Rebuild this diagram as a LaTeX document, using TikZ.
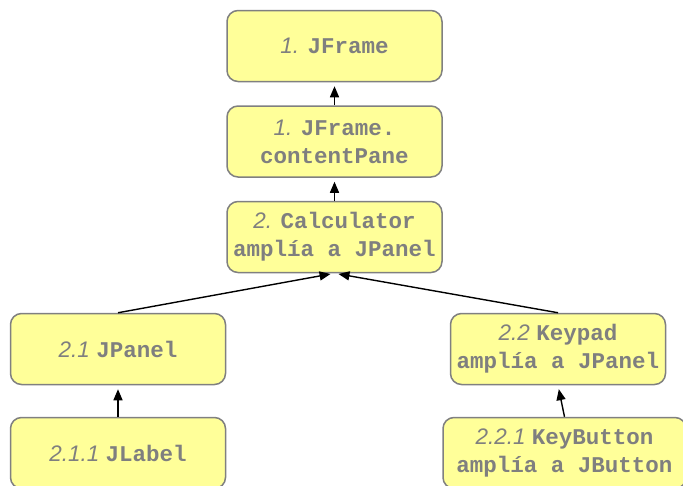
\documentclass[tikz,border=0pt]{standalone}
\usepackage{fontspec}
\setmainfont{Liberation Sans}
\newfontfamily\codefont{Liberation Mono}
\usepackage{tikz}
\usetikzlibrary{arrows.meta}

\definecolor{boxfill}{HTML}{FFFF99}
\definecolor{boxline}{HTML}{808080}
\definecolor{boxtext}{HTML}{7F7F7F}
\newcommand{\num}[1]{\textit{#1}}
\newcommand{\cls}[1]{{\codefont\bfseries #1}}

\begin{document}
\begin{tikzpicture}[x=1pt,y=1pt,
    cbox/.style={draw=boxline, line width=1.5pt, fill=boxfill,
      rounded corners=11pt, minimum width=215pt, minimum height=71pt,
      inner sep=1pt, align=center, text=boxtext,
      font=\fontsize{22.5}{28}\selectfont},
    ext/.style={-{Triangle[length=11pt,width=9pt]}, line width=1.4pt, shorten >=4pt}]

      \useasboundingbox (0,0) rectangle (683,-485);

      % frame and its pane
      \node[cbox] (frame) at (334.5,-46) {\num{1.} \cls{JFrame}};
      \node[cbox] (pane) at (334.5,-141.5) {\num{1.} \cls{JFrame.}\\\cls{contentPane}};

      % calculator
      \node[cbox] (calc) at (334.5,-237) {\num{2.} \cls{Calculator}\\\cls{amplía a JPanel}};

      % panels
      \node[cbox] (jpanel) at (118,-349) {\num{2.1} \cls{JPanel}};
      \node[cbox] (keypad) at (558,-349) {\num{2.2} \cls{Keypad}\\\cls{amplía a JPanel}};

      % leaves
      \node[cbox] (jlabel) at (118,-453) {\num{2.1.1} \cls{JLabel}};
      \node[cbox, minimum width=243pt] (keybtn) at (564.5,-453) {\num{2.2.1} \cls{KeyButton}\\\cls{amplía a JButton}};

      \draw[ext] (pane) to (frame);
      \draw[ext] (calc) to (pane);
      \draw[ext] (jpanel.north) to (calc.south);
      \draw[ext] (keypad.north) to (calc.south);
      \draw[ext] (jlabel.north) to (jpanel.south);
      \draw[ext] (keybtn.north) to (keypad.south);

    \end{tikzpicture}
\end{document}
